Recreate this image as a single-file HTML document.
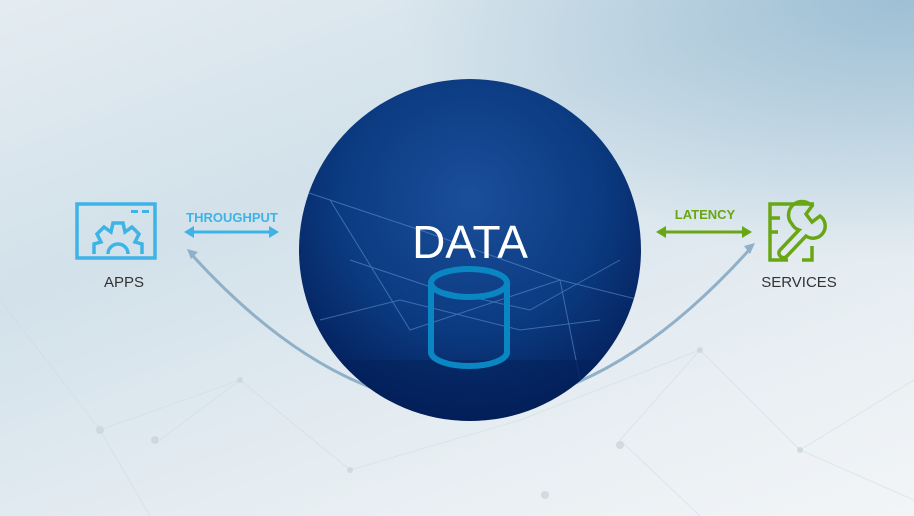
<!DOCTYPE html>
<html><head><style>
html,body{margin:0;padding:0}
body{width:914px;height:516px;overflow:hidden;font-family:"Liberation Sans",sans-serif;
background:linear-gradient(160deg,#e4ecf1 0%,#d2e1ea 35%,#e6edf2 70%,#f2f5f7 100%);position:relative}
.bg{position:absolute;inset:0;background:radial-gradient(ellipse 500px 260px at 900px 0px,rgba(140,180,205,.75),rgba(140,180,205,0) 100%)}
</style></head><body>
<div class="bg"></div>
<svg width="914" height="516" style="position:absolute;left:0;top:0">
<defs>
<radialGradient id="cg" cx="50%" cy="35%" r="65%">
<stop offset="0" stop-color="#1a4f9a"/><stop offset="0.6" stop-color="#0b3a80"/><stop offset="1" stop-color="#041f5a"/>
</radialGradient>
<clipPath id="cc"><circle cx="470" cy="250" r="171"/></clipPath>
</defs>
<g stroke="#d0d8df" stroke-width="1" opacity="0.5" fill="none">
<path d="M0 300 L100 430 L240 380 L350 470 L520 420 L700 350 L800 450 L914 380"/>
<path d="M100 430 L150 516 M240 380 L160 440 M700 350 L620 440 L700 516 M800 450 L914 500"/>
</g>
<g fill="#c9d1d8" opacity="0.7"><circle cx="100" cy="430" r="4"/><circle cx="155" cy="440" r="4"/><circle cx="240" cy="380" r="3"/><circle cx="350" cy="470" r="3"/><circle cx="700" cy="350" r="3"/><circle cx="620" cy="445" r="4"/><circle cx="545" cy="495" r="4"/><circle cx="800" cy="450" r="3"/></g>
<path d="M192 255 Q470 560 750 249" stroke="#8fb0c8" stroke-width="3" fill="none"/>
<circle cx="470" cy="250" r="171" fill="url(#cg)"/>
<g clip-path="url(#cc)" stroke="#5f8fd0" stroke-width="1" opacity="0.6" fill="none">
<path d="M300 190 L420 230 L560 280 L640 300 M350 260 L440 290 L530 310 L620 260 M320 320 L400 300 L520 330 L600 320 M330 200 L410 330 L560 280 L580 380"/>
<rect x="300" y="360" width="340" height="70" fill="#042058" stroke="none" opacity="0.8"/>
</g>
<text x="470" y="258" fill="#fff" font-size="46" text-anchor="middle" font-family="Liberation Sans">DATA</text>
<g stroke="#0a86c2" stroke-width="6" fill="none">
<ellipse cx="469" cy="283" rx="38" ry="14"/>
<path d="M431 283 V352 A38 14 0 0 0 507 352 V283"/>
</g>
<!-- apps icon -->
<g stroke="#3db3e6" stroke-width="3.5" fill="none">
<rect x="77" y="204" width="78" height="54"/>
</g>
<g fill="#3db3e6"><rect x="131" y="210" width="7" height="3"/><rect x="142" y="210" width="7" height="3"/></g>
<g stroke="#3db3e6" stroke-width="3.5" fill="none" stroke-linejoin="miter">
<path d="M94 254 L94 244 L101 242 L97 234 L104 227 L111 232 L113 223 L123 223 L125 232 L132 227 L139 234 L135 242 L142 244 L142 254"/>
<path d="M108 254 A10 10 0 0 1 128 254"/>
</g>
<text x="124" y="287" fill="#333" font-size="15" text-anchor="middle">APPS</text>
<text x="232" y="222" fill="#3db3e6" font-size="13" font-weight="bold" text-anchor="middle">THROUGHPUT</text>
<g stroke="#3db3e6" stroke-width="3"><line x1="190" y1="232" x2="272" y2="232"/></g>
<polygon points="184,232 194,226 194,238" fill="#3db3e6"/><polygon points="279,232 269,226 269,238" fill="#3db3e6"/>
<polygon points="187,249 198,252 191,259" fill="#8fb0c8"/>
<polygon points="755,243 744,246 750,254" fill="#8fb0c8"/>
<text x="705" y="219" fill="#6aa614" font-size="13" font-weight="bold" text-anchor="middle">LATENCY</text>
<g stroke="#6aa614" stroke-width="3"><line x1="663" y1="232" x2="745" y2="232"/></g>
<polygon points="656,232 666,226 666,238" fill="#6aa614"/><polygon points="752,232 742,226 742,238" fill="#6aa614"/>
<!-- services icon -->
<g stroke="#6aa614" stroke-width="3.5" fill="none">
<path d="M814 204 H770 V218 H780 M770 218 V232 H778 M770 232 V260 H788 M802 260 H812 V246"/>
<path d="M792 224 A12 12 0 0 1 812 206 L806 214 L812 222 L820 216 A12 12 0 0 1 806 236 L787 256 A4 4 0 0 1 780 250 L799 230 A12 12 0 0 1 792 224 Z"/>
</g>
<text x="799" y="287" fill="#333" font-size="15" text-anchor="middle">SERVICES</text>
</svg>
</body></html>
